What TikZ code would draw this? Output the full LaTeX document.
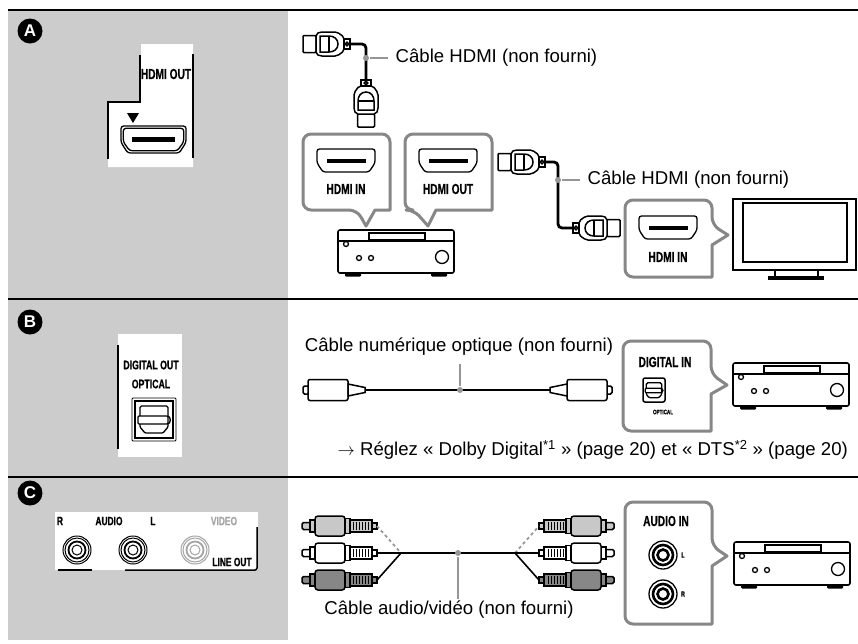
\documentclass[tikz,border=0pt]{standalone}
\usepackage{fontspec}
\setmainfont{Liberation Sans}
\newfontfamily\condfont[FakeStretch=0.7,BoldFeatures={FakeBold=0.6}]{Liberation Sans}
\usetikzlibrary{positioning}
\definecolor{panelgray}{RGB}{204,204,204}
\definecolor{boxgray}{RGB}{135,135,135}
\definecolor{leadgray}{RGB}{150,150,150}
\definecolor{plugltgray}{RGB}{200,200,200}
\definecolor{plugdkgray}{RGB}{135,135,135}
\definecolor{videogray}{RGB}{165,165,165}

\tikzset{
  pics/hdmiplug/.style={code={
    \draw[fill=white,rounded corners=1pt] (0,-8.5) rectangle (13,8.5);
    \draw[fill=white,rounded corners=2pt] (13,-10) -- (17,-12) -- (34,-12) -- (41,-7) -- (41,7) -- (34,12) -- (17,12) -- (13,10) -- cycle;
    \draw (17,-8) -- (26,-8) .. controls (31,-8) and (35,-5) .. (35,0) .. controls (35,5) and (31,8) .. (26,8) -- (17,8) -- cycle;
    \draw (26,-8) -- (26,8);
    \draw[fill=white] (41,-5) rectangle (47,5);
    \draw (44,0) circle (1.8pt);
    \coordinate (-end) at (47,0);
  }},
  pics/optplug/.style={code={
    \draw[fill=white,rounded corners=1.5pt] (0,-4) rectangle (6,4);
    \draw[fill=white,rounded corners=2pt] (5,-10.5) rectangle (45,10.5);
    \draw[fill=white] (45,-6) -- (62,-2.5) -- (62,2.5) -- (45,6) -- cycle;
    \coordinate (-end) at (62,0);
  }},
  pics/rca/.style={code={
    \draw[fill=#1,rounded corners=1.5pt] (0,-3.5) rectangle (9,3.5);
    \draw[fill=#1] (8,-6) rectangle (13,6);
    \draw[fill=#1,rounded corners=3pt] (13,-10) rectangle (43,10);
    \draw[fill=#1] (43,-7.5) rectangle (48,7.5);
    \draw[fill=#1] (48,-6) rectangle (70,6);
    \foreach \i in {51,54,...,67} \draw[line width=0.7pt] (\i,-4) -- (\i,4);
    \draw[fill=#1] (70,-3) rectangle (75,3);
    \coordinate (-end) at (75,0);
  }},
  pics/hdmijack/.style={code={
    \draw[rounded corners=2.5pt] (-29,-11.5) -- (29,-11.5) -- (29,2.5) -- (23,11.5) -- (-23,11.5) -- (-29,2.5) -- cycle;
    \fill (-19.5,-2) rectangle (19.5,2);
  }},
  pics/optshape/.style={code={
    \draw[rounded corners=1.5pt] (-14,-4) -- (-14,-14) -- (14,-14) -- (14,-4);
    \draw[rounded corners=1pt] (-16,-4) rectangle (14,4);
    \draw (14,-4) .. controls (17,-3) and (17,3) .. (14,4);
    \draw[rounded corners=1pt] (-14,4) -- (-14,7) -- (-9,13) -- (9,13) -- (14,7) -- (14,4);
  }},
  pics/receiver/.style={code={
    \draw[line width=1.6pt,rounded corners=2pt] (0,0) rectangle (116,43);
    \draw (0,11) -- (116,11);
    \draw (31,3) rectangle (87,10);
    \draw (8,14) circle (2.5pt);
    \draw (21,28) circle (2.5pt);
    \draw (33,28) circle (2.5pt);
    \draw (104,27) circle (6.5pt);
    \fill[rounded corners=1pt] (7,43) rectangle (23,46.5);
    \fill[rounded corners=1pt] (93,43) rectangle (109,46.5);
  }},
  pics/paneljack/.style={code={
    \draw[#1,line width=1pt] (0,0) circle (14pt);
    \draw[#1,line width=1pt] (0,0) circle (12pt);
    \draw[#1,line width=1.8pt] (0,0) circle (8.5pt);
    \draw[#1,line width=1pt] (0,0) circle (5pt);
  }},
  pics/injack/.style={code={
    \draw[line width=1.3pt] (0,0) circle (14pt);
    \draw[line width=2.6pt] (0,0) circle (10pt);
    \draw[line width=2.6pt] (0,0) circle (5.5pt);
  }}
}

\begin{document}
\begin{tikzpicture}[x=1pt,y=-1pt,line width=1.3pt,
  sep/.style={line width=2.5pt},
  plug/.style={line width=1.5pt},
  cable/.style={line width=2.8pt},
  thin cable/.style={line width=1.6pt},
  callout/.style={draw=boxgray,line width=3pt,fill=white,line join=round},
  dot/.style={circle,fill=leadgray,inner sep=0pt,minimum size=6pt},
  leader/.style={draw=leadgray,line width=1.5pt},
  lbl/.style={font=\fontsize{18.6}{22}\selectfont,inner sep=0pt},
  tag/.style={font=\condfont\bfseries\fontsize{#1}{#1}\selectfont,inner sep=0pt},
  tag/.default=14.5,
  badge/.style={circle,fill=black,text=white,minimum size=25pt,inner sep=0pt,font=\bfseries\fontsize{17}{17}\selectfont}]

\useasboundingbox (0,0) rectangle (858,643);
\fill[panelgray] (8,11) rectangle (288,298);
\fill[panelgray] (8,300) rectangle (288,476);
\fill[panelgray] (8,478) rectangle (288,640);
\foreach \y in {10,299,477} \draw[sep] (8,\y) -- (858,\y);
\node[badge] (badgeA) at (30,31) {A};
\node[badge] (badgeB) at (30,322) {B};
\node[badge] (badgeC) at (30,493) {C};

% A: HDMI
\fill[white] (141,44) rectangle (193,102) (108,102) rectangle (193,167);
\draw[line width=1.5pt] (108,159) -- (108,102) -- (140,102) -- (140,55);
\draw[line width=1.5pt] (193,54) -- (193,158);
\node[tag=14.5] (hdmiout) at (166,74) {HDMI OUT};
\fill (127,113) -- (139,113) -- (133,123) -- cycle;
\pic[xscale=1.12,yscale=1.17] at (153.5,139.5) {hdmijack};
\pic[xscale=1.04,yscale=0.97] at (153.5,139.5) {hdmijack};

\pic[plug] (hp1) at (303,44) {hdmiplug};
\pic[plug,rotate=90] (hp2) at (366,127) {hdmiplug};
\draw[cable,rounded corners=4pt] (hp1-end) -| (hp2-end);
\node[lbl,anchor=west] (hdmicab1) at (395,58) {Câble HDMI (non fourni)};
\node[dot] (dot1) at (366,58) {};
\draw[leader] (dot1) -- ([xshift=-7pt]hdmicab1.west);

\draw[callout] (375,210) -- (390,210) [rounded corners=8pt] -- (390,134) -- (303,134) -- (303,210) -- (357,210) [sharp corners] -- (366,226) -- cycle;
\pic at (346,160.5) {hdmijack};
\node[tag] (hdmiin1) at (346,189) {HDMI IN};
\draw[callout] (436,210) -- (492,210) [rounded corners=8pt] -- (492,134) -- (405,134) -- (405,210) -- (414,210) [sharp corners] -- (428,226) -- cycle;
\pic at (448,160.5) {hdmijack};
\node[tag] (hdmiout2) at (448,189) {HDMI OUT};
\pic (recA) at (338,230) {receiver};

\pic[plug] (hp3) at (498,162) {hdmiplug};
\pic[plug,rotate=180] (hp4) at (620,228) {hdmiplug};
\coordinate (bend2) at (558,195);
\draw[cable,rounded corners=4pt] (hp3-end) -| (bend2) |- (hp4-end);
\node[lbl,anchor=west] (hdmicab2) at (587,180) {Câble HDMI (non fourni)};
\node[dot] (dot2) at (558,180) {};
\draw[leader] (dot2) -- ([xshift=-7pt]hdmicab2.west);

\draw[callout] (712,245) -- (712,277) [rounded corners=8pt] -- (625,277) -- (625,200) -- (712,200) -- (712,225) [sharp corners] -- (728,235) -- cycle;
\pic at (668,227.5) {hdmijack};
\node[tag] (hdmiin2) at (668,257) {HDMI IN};
\draw[line width=1.8pt] (733,199) rectangle (856,270);
\draw (743,203) rectangle (847,262);
\draw (775,270) rectangle (818,277);
\fill (768,276) rectangle (824,280);

% B: optical
\fill[white] (118,334) rectangle (182,457);
\draw[line width=1.5pt] (118,345) -- (118,449);
\node[tag=12.5] (digout) at (151,365) {DIGITAL OUT};
\node[tag=12.5] (optout) at (151,384) {OPTICAL};
\draw[line width=0.8pt,rounded corners=1pt] (132,398) rectangle (176,441);
\draw[line width=1.3pt] (135,401) rectangle (173,438);
\pic at (154,420) {optshape};

\pic[plug] (op1) at (303,390) {optplug};
\pic[plug,rotate=180] (op2) at (612,390) {optplug};
\draw[cable] (op1-end) -- (op2-end);
\node[lbl] (optcab) at (459,347) {Câble numérique optique (non fourni)};
\node[dot] (dot3) at (460,390) {};
\draw[leader] (dot3) -- ([yshift=-8pt]optcab.south -| dot3);

\draw[callout] (711,394) -- (711,431) [rounded corners=8pt] -- (623,431) -- (623,341) -- (711,341) -- (711,374) [sharp corners] -- (727,385) -- cycle;
\node[tag] (digin) at (665,362) {DIGITAL IN};
\draw[line width=1.5pt,rounded corners=2pt] (643,378) rectangle (665,402);
\pic[scale=0.55] at (654,390.5) {optshape};
\node[tag=6.5] (optin) at (663,412) {OPTICAL};
\pic (recB) at (733,363) {receiver};

\node[lbl,anchor=west] (reglez) at (337,450) {$\rightarrow$ Réglez « Dolby Digital\textsuperscript{*1} » (page 20) et « DTS\textsuperscript{*2} » (page 20)};

% C: audio/video
\fill[white] (55,512) rectangle (258,570);
\node[tag=12] (rout) at (60,521) {R};
\node[tag=12] (audioout) at (109,521) {AUDIO};
\node[tag=12] (lout) at (153,521) {L};
\node[tag=12,text=videogray] (videoout) at (224,521) {VIDEO};
\node[tag=12] (lineout) at (232,562) {LINE OUT};
\pic at (77,550) {paneljack=black};
\pic at (133,550) {paneljack=black};
\pic at (195,550) {paneljack=videogray};
\draw[line width=1.5pt] (58,570) -- (92,570);
\draw[line width=1.5pt,rounded corners=2pt] (125,570) -- (257,570) -- (257,527);

\pic[plug] (rl1) at (302,526) {rca=plugltgray};
\pic[plug] (rl2) at (302,553) {rca=white};
\pic[plug] (rl3) at (302,580) {rca=plugdkgray};
\pic[plug,rotate=180] (rr1) at (614,526) {rca=plugltgray};
\pic[plug,rotate=180] (rr2) at (614,553) {rca=white};
\pic[plug,rotate=180] (rr3) at (614,580) {rca=plugdkgray};
\coordinate (jl) at (401,553);
\coordinate (jr) at (515,553);
\draw[leadgray,dashed,line width=1.8pt] (rl1-end) -- (jl) (jr) -- (rr1-end);
\draw[thin cable] (rl2-end) -- (jl) (rl3-end) -- (jl) (jr) -- (rr2-end) (jr) -- (rr3-end);
\draw[cable] (jl) -- (jr);
\node[lbl] (avcab) at (449,610) {Câble audio/vidéo (non fourni)};
\node[dot] (dot4) at (458,553) {};
\draw[leader] (dot4) -- ([yshift=2pt]avcab.north -| dot4);

\draw[callout] (712,566) -- (712,624) [rounded corners=8pt] -- (625,624) -- (625,502) -- (712,502) -- (712,546) [sharp corners] -- (727,556) -- cycle;
\node[tag] (audin) at (666,521) {AUDIO IN};
\pic at (663,555) {injack};
\pic at (663,594) {injack};
\node[tag=7.5] (lin) at (683,555) {L};
\node[tag=7.5] (rin) at (683,594) {R};
\pic (recC) at (734,542) {receiver};
\end{tikzpicture}
\end{document}
